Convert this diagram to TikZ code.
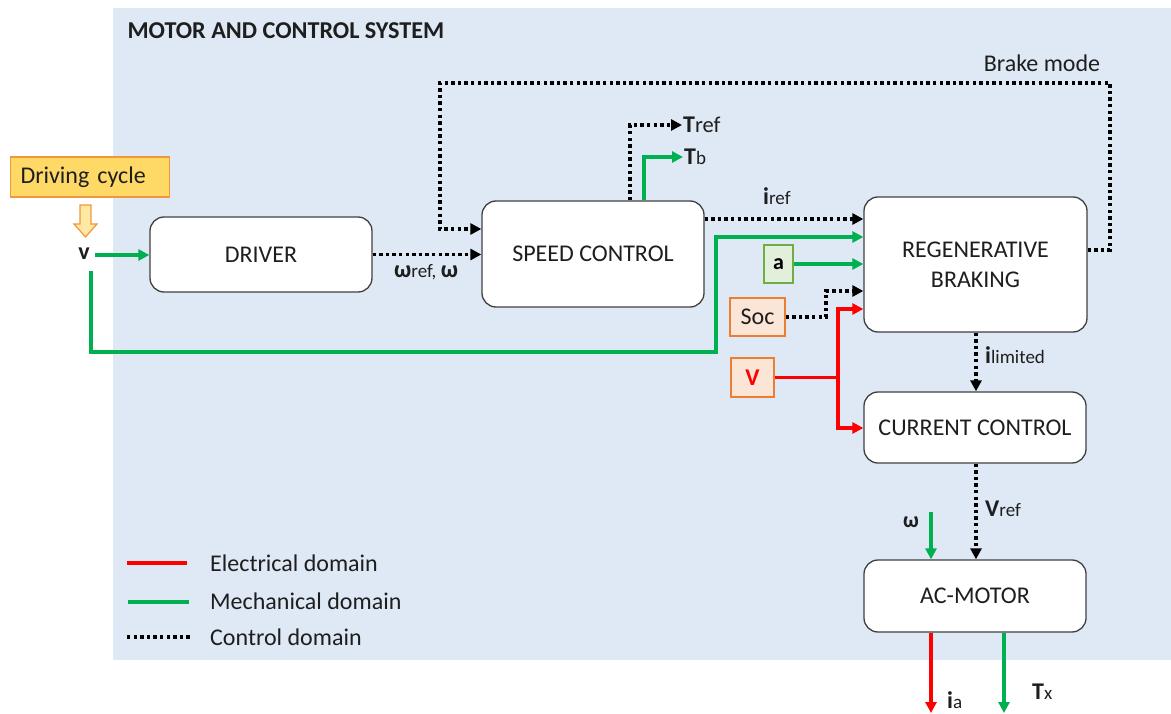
\documentclass[tikz,border=0pt]{standalone}
\usepackage{fontspec}
\setmainfont{Carlito}
\usetikzlibrary{arrows.meta,calc}
\definecolor{bgblue}{RGB}{222,233,245}
\definecolor{mgreen}{RGB}{0,176,80}
\definecolor{ered}{RGB}{255,0,0}
\definecolor{dcfill}{RGB}{255,217,102}
\definecolor{dcdraw}{RGB}{240,150,60}
\definecolor{afill}{RGB}{226,239,218}
\definecolor{adraw}{RGB}{112,173,71}
\definecolor{ofill}{RGB}{251,229,214}
\definecolor{odraw}{RGB}{237,125,49}
\definecolor{txt}{RGB}{30,30,30}
\tikzset{
  blk/.style={draw=black!75, line width=1.3pt, rounded corners=14pt, fill=white, text=txt, align=center, font=\fontsize{24}{30}\selectfont},
  ctrl/.style={line width=3.4pt, dash pattern=on 3.4pt off 3.2pt, -{Triangle[length=11pt,width=11pt]}},
  ctrlnoarrow/.style={line width=3.4pt, dash pattern=on 3.4pt off 3.2pt},
  mech/.style={mgreen, line width=3.4pt, -{Triangle[length=11pt,width=11pt]}},
  elec/.style={ered, line width=3.4pt, -{Triangle[length=11pt,width=11pt]}},
  lbl/.style={font=\fontsize{19}{22}\selectfont, text=txt, inner sep=1pt},
  big/.style={font=\fontsize{24}{28}\selectfont},
  smallbox/.style={line width=1.2pt, minimum height=38, inner sep=2pt, font=\fontsize{24}{28}\selectfont}
}
\newcommand{\bg}[1]{{\fontsize{24}{28}\selectfont\textbf{#1}}}
\begin{document}
\begin{tikzpicture}[x=1pt,y=-1pt]
\useasboundingbox (0,0) rectangle (1171,714);
\fill[bgblue] (113,8) rectangle (1171,660);
\node[anchor=west, font=\bfseries\fontsize{24.2}{28}\selectfont, text=txt] (title) at (124,31) {MOTOR AND CONTROL SYSTEM};

% blocks
\node[blk, minimum width=222, minimum height=75] (drv) at (261,254.5) {DRIVER};
\node[blk, minimum width=222, minimum height=106] (sc) at (593,254) {SPEED CONTROL};
\node[blk, minimum width=223, minimum height=135] (rb) at (975.5,264.5) {REGENERATIVE\\BRAKING};
\node[blk, minimum width=222, minimum height=71] (cc) at (975,427.5) {CURRENT CONTROL};
\node[blk, minimum width=222, minimum height=72] (acm) at (975,596) {AC-MOTOR};

% driving cycle
\node[draw=dcdraw, fill=dcfill, line width=1.2pt, text width=139, align=left, inner xsep=10, minimum height=40, font=\fontsize{24}{28}\selectfont, text=txt] (dc) at (90,177) {Driving cycle};
\draw[draw=dcdraw, fill=dcfill!60, line width=1.2pt] (80,205) -- (91,205) -- (91,224) -- (97,224) -- (85.5,237) -- (74,224) -- (80,224) -- cycle;
\node[font=\bfseries\fontsize{24}{28}\selectfont, text=txt, inner sep=1pt] (v) at (84,254) {v};

% small input boxes
\node[smallbox, draw=adraw, fill=afill, minimum width=29, font=\bfseries\fontsize{22}{26}\selectfont] (a) at (778.5,264) {a};
\node[smallbox, draw=odraw, fill=ofill, minimum width=55, text=txt] (soc) at (757.5,317) {Soc};
\node[smallbox, draw=odraw, fill=ofill, minimum width=43, minimum height=39, text=ered, font=\bfseries\fontsize{24}{28}\selectfont] (V) at (752.5,377.5) {V};

% labels
\node[lbl, anchor=west] (wlbl) at (393,272) {\bg{ω}ref, \bg{ω}};
\node[lbl, big] (brake) at (1042,63) {Brake mode};
\node[lbl, anchor=west] (tref) at (682,125) {\bg{T}{\fontsize{22.5}{26}\selectfont ref}};
\node[lbl, anchor=west] (tb) at (683,157) {\bg{T}b};
\node[lbl, anchor=west] (iref) at (762,196) {\bg{i}ref};
\node[lbl, anchor=west] (ilim) at (984,355) {\bg{i}limited};
\node[lbl, anchor=west] (vref) at (984,509) {\bg{V}ref};
\node[lbl, font=\bfseries\fontsize{22}{26}\selectfont] (wl) at (911,522) {ω};
\node[lbl, anchor=west] (ia) at (946,700) {\bg{i}a};
\node[lbl, anchor=west] (tx) at (1031,692) {\bg{T}x};

% coordinates for free ends
\coordinate (wtop) at (931,512);
\coordinate (iaend) at (931,713);
\coordinate (txend) at (1004,713);

% connectors
\draw[mech] (v.east) ++(4,1) -- (drv.west |- 0,255);
\draw[ctrl] (drv.east) -- (sc.west |- drv.east);
\draw[ctrl] (rb.east |- 0,250) -| (1110,83) -| (440,229) -- (sc.west |- 0,229);
\draw[ctrl] (sc.north -| 630,0) |- (tref.west);
\draw[mech] (sc.north -| 644,0) |- (tb.west);
\draw[ctrl] (sc.east |- 0,219) -- (rb.west |- 0,219);
\draw[mech] (91,271) -- (91,352) -| (716,237) -- (rb.west |- 0,237);
\draw[mech] (a.east) -- (rb.west |- a.east);
\draw[ctrl] (soc.east) -| (826,291) -- (rb.west |- 0,291);
\draw[elec] (V.east) -| (838,309) -- (rb.west |- 0,309);
\draw[elec] (V.east) -| (838,428) -- (cc.west |- 0,428);
\draw[ctrl] (rb.south -| 976,0) -- (cc.north -| 976,0);
\draw[ctrl] (cc.south -| 976,0) -- (acm.north -| 976,0);
\draw[mech] (wtop) -- (acm.north -| wtop);
\draw[elec] (acm.south -| iaend) -- (iaend);
\draw[mech] (acm.south -| txend) -- (txend);

% legend
\draw[ered, line width=3.4pt] (127,563) -- (187,563);
\draw[mgreen, line width=3.4pt] (128,602) -- (189,602);
\draw[ctrlnoarrow] (127,637) -- (190,637);
\node[lbl, big, anchor=west] (le) at (209,563) {Electrical domain};
\node[lbl, big, anchor=west] (lm) at (209,601) {Mechanical domain};
\node[lbl, big, anchor=west] (lc) at (209,637) {Control domain};
\end{tikzpicture}
\end{document}
